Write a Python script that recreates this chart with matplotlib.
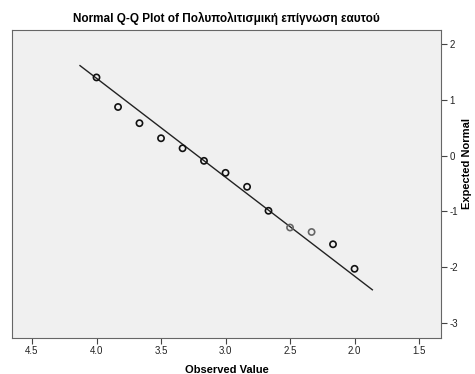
import matplotlib
matplotlib.use("Agg")
import matplotlib.pyplot as plt
import numpy as np

plt.rcParams['font.family'] = ['Liberation Sans', 'DejaVu Sans']

title = "Normal Q-Q Plot of Πολυπολιτισμική επίγνωση εαυτού"
xlabel = "Observed Value"
ylabel = "Expected Normal"

observed = [4.0, 3.833, 3.667, 3.5, 3.333, 3.167, 3.0, 2.833, 2.667, 2.5, 2.333, 2.167, 2.0]
expected = [1.40, 0.87, 0.58, 0.31, 0.13, -0.095, -0.31, -0.56, -0.99, -1.29, -1.37, -1.59, -2.03]
point_colors = ['#111111'] * 9 + ['#666666', '#666666', '#111111', '#111111']

line_mean = 3.219
line_sd = 0.564
line_x = [1.862, 4.128]

xticks = [1.5, 2.0, 2.5, 3.0, 3.5, 4.0, 4.5]
yticks = [-3, -2, -1, 0, 1, 2]

fig = plt.figure(figsize=(4.75, 3.74), dpi=100)
ax = fig.add_axes([12/475, 1-338/374, (441-12)/475, (338-30)/374])
ax.set_facecolor('#f0f0f0')

lx = np.array(line_x)
ax.plot(lx, (lx - line_mean) / line_sd, color='#222222', lw=1.0, zorder=2)
ax.scatter(observed, expected, s=20, facecolors='none', edgecolors=point_colors,
           linewidths=1.2, zorder=3)

ax.set_xlim(4.655, 1.33)
ax.set_ylim(-3.27, 2.25)
ax.set_xticks(xticks)
ax.set_xticklabels([f"{v:.1f}" for v in xticks])
ax.set_yticks(yticks)
ax.set_yticklabels([str(v) for v in yticks])
ax.yaxis.tick_right()
ax.yaxis.set_label_position('right')
ax.tick_params(axis='both', direction='out', length=4, width=0.8, colors='#444444',
               labelsize=7, labelcolor='#222222', pad=2)
for s in ax.spines.values():
    s.set_color('#666666')
    s.set_linewidth(0.8)

ax.set_xlabel(xlabel, fontsize=8, fontweight='bold', labelpad=6)
ax.set_ylabel(ylabel, fontsize=8, fontweight='bold', rotation=90, va='center', ha='center')
ax.yaxis.set_label_coords((467 - 12) / 429, (338 - 164) / 308)
ax.set_title(title, fontsize=8.5, fontweight='bold', pad=6)

fig.savefig("out.png", dpi=100)
